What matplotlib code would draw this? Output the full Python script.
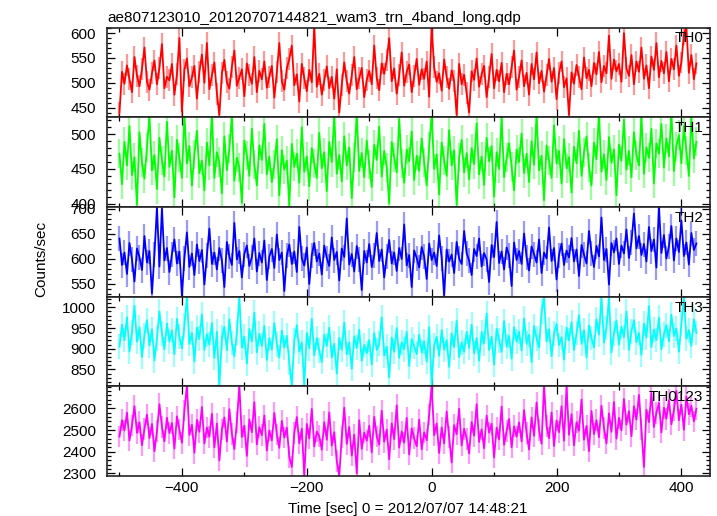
import numpy as np
import matplotlib
matplotlib.use("Agg")
import matplotlib.pyplot as plt
from matplotlib.ticker import MultipleLocator

plt.rcParams['font.family'] = ['Liberation Sans', 'DejaVu Sans']

title = "ae807123010_20120707144821_wam3_trn_4band_long.qdp"
xlabel = "Time [sec] 0 = 2012/07/07 14:48:21"
ylabel = "Counts/sec"
band_names = ["TH0", "TH1", "TH2", "TH3", "TH0123"]
colors = ["#ff0000", "#00ff00", "#0000ff", "#00ffff", "#ff00ff"]

t_first, t_last = -500, 424   # first / last bin time (sec)

th0 = [
    440, 522, 498, 535, 507, 481, 552, 514, 493, 528, 571, 502, 486, 519, 545, 497, 530, 578, 489, 512,
    505, 538, 476, 517, 590, 442, 526, 549, 493, 511, 534, 468, 522, 557, 500, 580, 487, 515, 541, 478,
    435, 519, 546, 501, 488, 532, 565, 494, 510, 527, 473, 539, 516, 498, 552, 481, 524, 507, 543, 490,
    512, 534, 470, 521, 580, 503, 486, 529, 548, 575, 495, 517, 462, 538, 509, 483, 526, 501, 615, 492,
    518, 476, 505, 533, 489, 512, 468, 527, 440, 496, 541, 503, 478, 515, 552, 487, 509, 530, 471, 506,
    524, 497, 575, 510, 485, 539, 518, 546, 590, 503, 529, 478, 515, 561, 494, 522, 537, 481, 513, 548,
    496, 527, 508, 543, 472, 615, 531, 502, 519, 484, 547, 511, 488, 525, 503, 435, 538, 497, 516, 479,
    440, 523, 506, 549, 492, 517, 534, 471, 512, 558, 489, 526, 503, 540, 481, 518, 497, 531, 565, 486,
    512, 545, 493, 520, 476, 538, 507, 561, 499, 524, 482, 515, 548, 502, 530, 467, 519, 543, 491, 509,
    435, 521, 498, 536, 512, 487, 551, 509, 526, 493, 540, 517, 562, 501, 534, 519, 595, 508, 547, 523,
    538, 502, 600, 529, 514, 556, 497, 543, 522, 571, 508, 535, 489, 553, 526, 580, 511, 544, 519, 562,
    503, 548, 527, 575, 514, 541, 598, 612, 520, 556, 507, 539,
]
th1 = [
    472, 428, 489, 455, 512, 441, 467, 398, 503, 459, 436, 481, 527, 448, 470, 421, 495, 462, 439, 518,
    453, 476, 409, 492, 466, 437, 529, 458, 483, 426, 471, 505, 444, 462, 419, 488, 455, 531, 437, 474,
    460, 415, 497, 448, 479, 527, 433, 466, 452, 401, 491, 469, 440, 508, 457, 426, 484, 463, 515, 442,
    468, 431, 456, 493, 412, 477, 449, 462, 397, 486, 453, 472, 430, 510, 446, 468, 425, 480, 458, 437,
    502, 451, 474, 418, 489, 460, 528, 443, 470, 432, 497, 455, 481, 408, 466, 530, 447, 473, 438, 491,
    456, 424, 485, 463, 511, 439, 476, 452, 400, 489, 467, 445, 522, 458, 430, 478, 461, 504, 434, 469,
    447, 494, 459, 426, 482, 529, 450, 471, 413, 488, 462, 440, 506, 455, 477, 398, 466, 492, 445, 473,
    435, 480, 457, 516, 442, 468, 427, 495, 461, 483, 410, 474, 450, 525, 438, 466, 487, 453, 419, 478,
    460, 501, 444, 472, 431, 490, 456, 528, 448, 469, 405, 484, 462, 437, 513, 458, 476, 429, 493, 451,
    467, 416, 482, 458, 505, 440, 474, 497, 452, 426, 488, 464, 531, 446, 471, 434, 496, 459, 478, 412,
    485, 462, 521, 449, 476, 438, 503, 470, 455, 527, 443, 481, 466, 508, 429, 487, 472, 515, 452, 494,
    468, 531, 447, 483, 499, 458, 512, 476, 440, 526, 465, 489,
]
th2 = [
    640, 587, 612, 569, 631, 598, 554, 620, 603, 577, 645, 592, 615, 530, 608, 702, 584, 700, 596, 621,
    573, 609, 638, 590, 614, 526, 601, 652, 583, 610, 567, 628, 595, 617, 548, 606, 660, 589, 612, 578,
    621, 596, 543, 633, 604, 587, 671, 598, 615, 562, 609, 626, 585, 603, 640, 574, 611, 592, 636, 557,
    604, 619, 581, 648, 597, 612, 535, 606, 628, 589, 614, 573, 663, 600, 586, 622, 549, 607, 631, 594,
    610, 568, 626, 601, 585, 642, 597, 613, 556, 620, 603, 680, 588, 609, 574, 625, 598, 537, 615, 592,
    629, 583, 606, 651, 595, 618, 562, 604, 637, 590, 612, 575, 621, 599, 668, 586, 607, 543, 616, 601,
    582, 623, 604, 559, 630, 597, 612, 585, 646, 601, 526, 618, 594, 608, 571, 633, 600, 589, 655, 611,
    596, 567, 619, 605, 640, 584, 611, 598, 553, 627, 603, 673, 591, 614, 578, 622, 606, 545, 632, 597,
    615, 589, 650, 603, 576, 624, 609, 592, 638, 571, 612, 600, 662, 595, 621, 558, 607, 630, 587, 616,
    602, 641, 594, 618, 565, 627, 608, 590, 655, 611, 583, 625, 604, 682, 597, 619, 548, 631, 612, 640,
    589, 626, 610, 658, 601, 633, 690, 620, 645, 607, 629, 594, 663, 615, 638, 582, 705, 611, 647, 600,
    624, 665, 596, 640, 613, 676, 605, 632, 588, 651, 617, 630,
]
th3 = [
    905, 958, 921, 976, 893, 940, 1004, 917, 952, 880, 933, 969, 908, 947, 872, 925, 990, 936, 899, 961,
    918, 944, 887, 972, 929, 901, 956, 1025, 912, 938, 869, 951, 924, 983, 897, 935, 910, 962, 878, 941,
    810, 927, 953, 896, 971, 914, 882, 940, 1025, 903, 929, 864, 948, 918, 987, 891, 936, 907, 955, 873,
    925, 898, 962, 911, 879, 944, 903, 931, 866, 810, 920, 957, 893, 915, 812, 938, 901, 972, 884, 926,
    895, 868, 934, 907, 951, 879, 912, 840, 926, 898, 963, 887, 915, 852, 930, 902, 946, 871, 909, 889,
    921, 862, 938, 897, 912, 976, 884, 905, 831, 927, 893, 950, 878, 916, 899, 941, 858, 923, 906, 887,
    934, 891, 918, 869, 952, 812, 907, 929, 883, 945, 898, 921, 856, 937, 904, 968, 880, 915, 893, 941,
    902, 958, 889, 926, 871, 940, 913, 985, 897, 929, 862, 948, 920, 893, 967, 905, 931, 876, 952, 917,
    941, 896, 973, 912, 934, 868, 955, 925, 903, 989, 1025, 918, 947, 882, 936, 960, 909, 928, 874, 951,
    920, 964, 897, 938, 981, 912, 945, 879, 956, 926, 903, 971, 934, 1025, 915, 950, 1025, 891, 937, 968,
    910, 953, 928, 990, 897, 942, 969, 916, 938, 885, 961, 927, 1003, 904, 946, 921, 975, 899, 935, 957,
    918, 982, 931, 949, 893, 960, 1025, 924, 945, 907, 971, 938,
]
th0123 = [
    2470, 2545, 2498, 2580, 2452, 2521, 2610, 2487, 2536, 2430, 2505, 2571, 2463, 2528, 2402, 2494, 2619, 2515, 2448, 2557,
    2486, 2532, 2415, 2563, 2503, 2441, 2590, 2705, 2478, 2524, 2395, 2547, 2492, 2606, 2438, 2511, 2469, 2575, 2420, 2530,
    2360, 2502, 2558, 2447, 2596, 2483, 2412, 2537, 2705, 2468, 2520, 2381, 2549, 2490, 2628, 2434, 2513, 2476, 2567, 2405,
    2498, 2452, 2579, 2480, 2418, 2542, 2465, 2511, 2377, 2330, 2487, 2560, 2439, 2506, 2290, 2528, 2461, 2597, 2424, 2493,
    2472, 2409, 2536, 2455, 2581, 2428, 2490, 2357, 2290, 2467, 2603, 2436, 2514, 2382, 2479, 2300, 2545, 2413, 2488, 2451,
    2520, 2397, 2561, 2470, 2433, 2589, 2446, 2502, 2365, 2531, 2458, 2614, 2419, 2493, 2441, 2556, 2387, 2507, 2462, 2425,
    2548, 2411, 2489, 2453, 2572, 2705, 2476, 2530, 2394, 2512, 2438, 2585, 2467, 2350, 2523, 2481, 2598, 2429, 2506, 2460,
    2392, 2537, 2474, 2619, 2445, 2503, 2416, 2566, 2488, 2529, 2373, 2511, 2457, 2608, 2432, 2495, 2551, 2420, 2517, 2469,
    2535, 2448, 2592, 2486, 2410, 2558, 2473, 2627, 2499, 2437, 2705, 2518, 2462, 2581, 2426, 2544, 2490, 2610, 2451, 2700,
    2478, 2573, 2429, 2536, 2497, 2640, 2455, 2519, 2402, 2588, 2481, 2545, 2467, 2612, 2510, 2438, 2577, 2492, 2629, 2460,
    2556, 2498, 2643, 2525, 2587, 2471, 2610, 2548, 2662, 2503, 2330, 2594, 2536, 2671, 2514, 2580, 2625, 2489, 2603, 2552,
    2638, 2526, 2592, 2680, 2545, 2617, 2501, 2655, 2573, 2612, 2540, 2598,
]
series = [th0, th1, th2, th3, th0123]
errors = [22, 21, 25, 30, 50]   # typical 1-sigma error bar per band

y_limits = [(431, 611), (395, 525), (523, 703), (810, 1025), (2288, 2703)]
y_ticks = [[450, 500, 550, 600], [400, 450, 500], [550, 600, 650, 700],
           [850, 900, 950, 1000], [2300, 2400, 2500, 2600]]
y_minor = [10, 10, 10, 10, 20]
x_ticks = [-400, -200, 0, 200, 400]
x_limits = (-520, 445)

W, H = 717, 516
fig = plt.figure(figsize=(W / 100, H / 100), dpi=100)

left_px, right_px = 107, 709.5
edges_px = [27.7, 117, 207, 297, 386, 476]

for k in range(5):
    top, bot = edges_px[k], edges_px[k + 1]
    ax = fig.add_axes([left_px / W, 1 - bot / H, (right_px - left_px) / W, (bot - top) / H])
    y = np.array(series[k], dtype=float)
    t = np.linspace(t_first, t_last, len(y))
    ax.errorbar(t, y, yerr=errors[k], fmt='none', ecolor=colors[k],
                elinewidth=1.6, capsize=0, alpha=0.4)
    ax.plot(t, y, color=colors[k], lw=1.3)
    ax.set_xlim(*x_limits)
    ax.set_ylim(*y_limits[k])
    ax.set_yticks(y_ticks[k])
    ax.yaxis.set_minor_locator(MultipleLocator(y_minor[k]))
    ax.set_xticks(x_ticks)
    ax.xaxis.set_minor_locator(MultipleLocator(100))
    ax.tick_params(which='both', direction='in', top=True, right=True,
                   labelsize=11, colors='black')
    ax.tick_params(axis='y', which='major', pad=8)
    ax.tick_params(which='major', length=6, width=0.9)
    ax.tick_params(which='minor', length=3, width=0.9)
    if k < 4:
        ax.tick_params(labelbottom=False)
    for s in ax.spines.values():
        s.set_linewidth(1.2)
        s.set_color('#222222')
    ax.text(0.99, 0.96, band_names[k], transform=ax.transAxes, ha='right', va='top',
            fontsize=11, zorder=5)
    if k == 0:
        ax.set_title(title, loc='left', fontsize=11, pad=4)
    if k == 4:
        ax.set_xlabel(xlabel, fontsize=11, labelpad=5)

fig.text(41 / W, 1 - 259 / H, ylabel, rotation=90, ha='center', va='center', fontsize=11)

fig.savefig("out.png", dpi=100)
